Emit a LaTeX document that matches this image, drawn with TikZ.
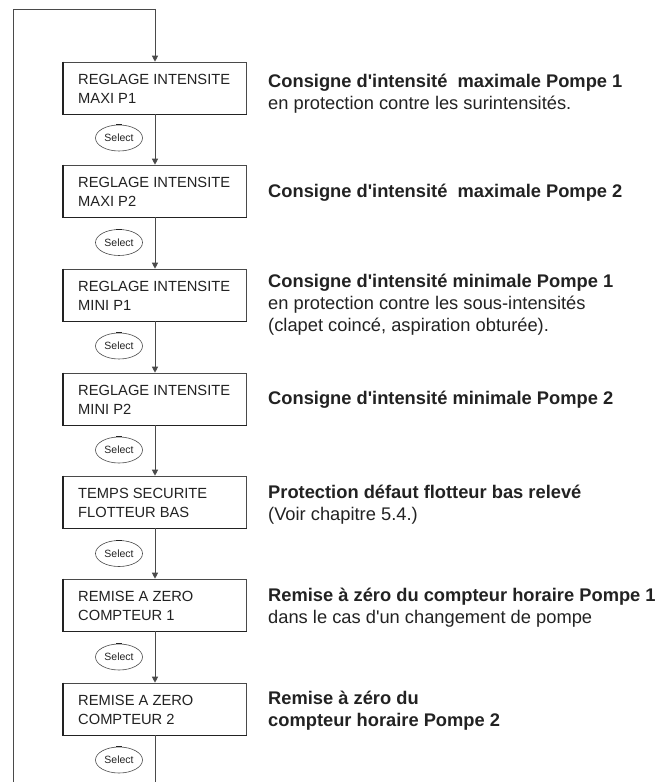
\documentclass[tikz,border=0pt]{standalone}
\usepackage{fontspec}
\setmainfont{Liberation Sans}[Ligatures=TeXOff]
\usetikzlibrary{shapes.geometric,arrows.meta}
\definecolor{ink}{HTML}{222222}
\definecolor{linec}{HTML}{4A4A4A}
\tikzset{
  stepbox/.style={draw=linec, line width=0.6bp, fill=white, minimum width=183bp, minimum height=52bp, inner sep=0pt},
  heavyedge/.style={draw=ink, line width=1.4bp},
  conn/.style={draw=linec, line width=0.9bp},
  arr/.style={conn, -{Triangle[length=6bp,width=6bp]}},
  selbtn/.style={ellipse, draw=linec, line width=0.6bp, minimum width=47bp, minimum height=26bp, inner sep=0pt, font=\fontsize{10.5bp}{12bp}\selectfont, text=ink},
  boxtxt/.style={anchor=base west, inner sep=0pt, text=ink, font=\fontsize{14.7bp}{19bp}\selectfont},
  desc/.style={anchor=base west, inner sep=0pt, text=ink, font=\fontsize{18.3bp}{22bp}\selectfont},
  descb/.style={desc, font=\fontsize{18.3bp}{22bp}\selectfont\bfseries},
}
\begin{document}
\begin{tikzpicture}[x=1bp,y=-1bp]
\useasboundingbox (0,0) rectangle (658,782);
% boxes
\node[stepbox] (b1) at (155,88) {};
\node[stepbox] (b2) at (155,191) {};
\node[stepbox] (b3) at (155,295) {};
\node[stepbox] (b4) at (155,399) {};
\node[stepbox] (b5) at (155,502) {};
\node[stepbox] (b6) at (155,605) {};
\node[stepbox] (b7) at (155,709) {};
\foreach \b in {b1,b2,b3,b4,b5,b6,b7}{
  \draw[heavyedge] (\b.north west) -- (\b.south west) -- (\b.south east);
}
% box texts
\node[boxtxt] (t1a) at (78,84.3) {REGLAGE INTENSITE};
\node[boxtxt] (t1b) at (78,103) {MAXI P1};
\node[boxtxt] (t2a) at (78,187.3) {REGLAGE INTENSITE};
\node[boxtxt] (t2b) at (78,206) {MAXI P2};
\node[boxtxt] (t3a) at (78,291.3) {REGLAGE INTENSITE};
\node[boxtxt] (t3b) at (78,310) {MINI P1};
\node[boxtxt] (t4a) at (78,395.3) {REGLAGE INTENSITE};
\node[boxtxt] (t4b) at (78,414) {MINI P2};
\node[boxtxt] (t5a) at (78,498.3) {TEMPS SECURITE};
\node[boxtxt] (t5b) at (78,517) {FLOTTEUR BAS};
\node[boxtxt] (t6a) at (78,601.3) {REMISE A ZERO};
\node[boxtxt] (t6b) at (78,620) {COMPTEUR 1};
\node[boxtxt] (t7a) at (78,705.3) {REMISE A ZERO};
\node[boxtxt] (t7b) at (78,724) {COMPTEUR 2};
% select buttons
\node[selbtn] (s1) at (119,138) {Select};
\node[selbtn] (s2) at (119,242.5) {Select};
\node[selbtn] (s3) at (119,346) {Select};
\node[selbtn] (s4) at (119,450) {Select};
\node[selbtn] (s5) at (119,553.5) {Select};
\node[selbtn] (s6) at (119,657) {Select};
\node[selbtn] (s7) at (119,760) {Select};
\foreach \s in {s1,s2,s3,s4,s5,s6,s7}{
  \draw[draw=ink, line width=1.2bp] ([xshift=-3bp]\s.north) -- ([xshift=3bp]\s.north);
}
% connectors
\coordinate (tl) at (13,9);
\coordinate (tr) at (155,9);
\coordinate (bl) at (13,782);
\coordinate (bb) at (155,782);
\draw[conn] (bl) -- (tl) -- (tr);
\draw[arr] (tr) -- (b1.north);
\draw[arr] (b1.south) -- (b2.north);
\draw[arr] (b2.south) -- (b3.north);
\draw[arr] (b3.south) -- (b4.north);
\draw[arr] (b4.south) -- (b5.north);
\draw[arr] (b5.south) -- (b6.north);
\draw[arr] (b6.south) -- (b7.north);
\draw[conn] (b7.south) -- (bb);
% descriptions
\node[descb] (d1a) at (268,87.5) {Consigne d'intensité~ maximale Pompe 1};
\node[desc]  (d1b) at (268,109.5) {en protection contre les surintensités.};
\node[descb] (d2a) at (268,197) {Consigne d'intensité~ maximale Pompe 2};
\node[descb] (d3a) at (268,287.5) {Consigne d'intensité minimale Pompe 1};
\node[desc]  (d3b) at (268,309.5) {en protection contre les sous-intensités};
\node[desc]  (d3c) at (268,331.5) {(clapet coincé, aspiration obturée).};
\node[descb] (d4a) at (268,404.5) {Consigne d'intensité minimale Pompe 2};
\node[descb] (d5a) at (268,498.5) {Protection défaut flotteur bas relevé};
\node[desc]  (d5b) at (268,520.5) {(Voir chapitre 5.4.)};
\node[descb] (d6a) at (268,601.5) {Remise à zéro du compteur horaire Pompe 1};
\node[desc]  (d6b) at (268,623.5) {dans le cas d'un changement de pompe};
\node[descb] (d7a) at (268,704.5) {Remise à zéro du};
\node[descb] (d7b) at (268,726) {compteur horaire Pompe 2};
\end{tikzpicture}
\end{document}
